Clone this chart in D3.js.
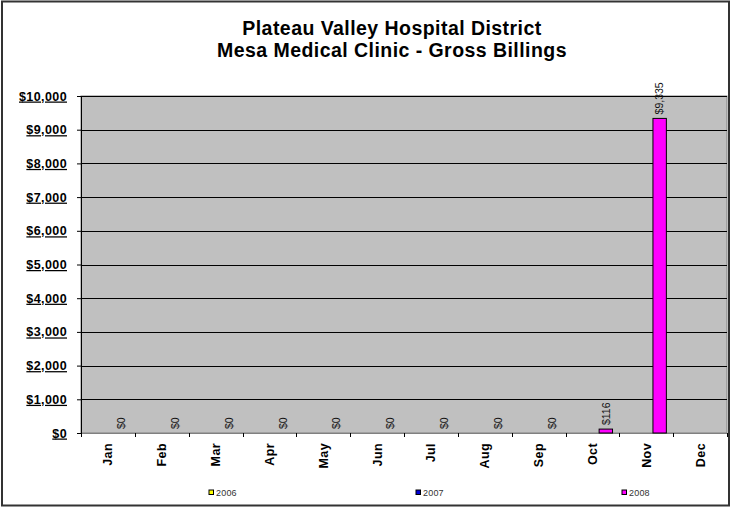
<!DOCTYPE html>
<html>
<head>
<meta charset="utf-8">
<script src="https://cdn.jsdelivr.net/npm/d3@7"></script>
<style>
  body { margin: 0; background: #fff; }
  svg { display: block; font-family: Arial, "Liberation Sans", sans-serif; }
</style>
</head>
<body>
<div class="root"></div>
<script>
var months = ['Jan', 'Feb', 'Mar', 'Apr', 'May', 'Jun', 'Jul', 'Aug', 'Sep', 'Oct', 'Nov', 'Dec'];
var seriesNames = ['2006', '2007', '2008'];
var seriesColors = ['#ffff00', '#0000d8', '#ff00ff'];
var billings2006 = [null, null, null, null, null, null, null, null, null, null, null, null];
var billings2007 = [null, null, null, null, null, null, null, null, null, null, null, null];
var billings2008 = [0, 0, 0, 0, 0, 0, 0, 0, 0, 116, 9335, null];
var yTicks = [0, 1000, 2000, 3000, 4000, 5000, 6000, 7000, 8000, 9000, 10000];
var titleLines = ['Plateau Valley Hospital District', 'Mesa Medical Clinic - Gross Billings'];

function drawChart() {
  var w = 732, h = 508;
  var plot = {left: 81, right: 727, top: 96, bottom: 433};

  var allSeries = [billings2006, billings2007, billings2008];

  var svg = d3.select('.root').append('svg')
    .attr('width', w)
    .attr('height', h);

  // outer chart border
  svg.append('rect')
    .attr('x', 2).attr('y', 1.5)
    .attr('width', 727).attr('height', 504)
    .attr('fill', '#fff')
    .attr('stroke', '#333')
    .attr('stroke-width', 2);

  // title
  svg.append('g').selectAll('text')
    .data(titleLines)
    .enter().append('text')
      .attr('x', 392)
      .attr('y', function(d, i) { return 34.5 + i * 22; })
      .attr('text-anchor', 'middle')
      .attr('font-size', '19.5px')
      .attr('font-weight', 'bold')
      .attr('letter-spacing', '0.45px')
      .attr('fill', '#000')
      .text(function(d) { return d; });

  var x = d3.scaleBand()
    .domain(months)
    .range([plot.left, plot.right])
    .paddingInner(0.253)
    .paddingOuter(0.1265);

  var xs = d3.scaleBand()
    .domain(seriesNames)
    .range([0, x.bandwidth()]);

  var y = d3.scaleLinear()
    .domain([0, 10000])
    .range([plot.bottom, plot.top]);

  // plot area
  svg.append('rect')
    .attr('x', plot.left).attr('y', plot.top)
    .attr('width', plot.right - plot.left).attr('height', plot.bottom - plot.top)
    .attr('fill', '#c0c0c0')
    .attr('stroke', '#808080')
    .attr('stroke-width', 1);

  // gridlines
  svg.append('g')
    .selectAll('line')
    .data(yTicks.filter(function(d) { return d > 0; }))
    .enter().append('line')
      .attr('x1', plot.left).attr('x2', plot.right)
      .attr('y1', function(d) { return Math.round(y(d)) + 0.5; })
      .attr('y2', function(d) { return Math.round(y(d)) + 0.5; })
      .attr('stroke', '#000')
      .attr('stroke-width', 1);

  // y axis
  var yAxis = svg.append('g')
    .attr('transform', 'translate(' + plot.left + ',0)')
    .call(d3.axisLeft(y)
      .tickValues(yTicks)
      .tickSize(4)
      .tickPadding(10)
      .tickFormat(function(d) { return '$' + d3.format(',')(d); }));
  yAxis.select('.domain').attr('stroke', '#000');
  yAxis.selectAll('.tick line').attr('stroke', '#000');
  yAxis.selectAll('.tick text')
    .attr('font-family', 'Arial, "Liberation Sans", sans-serif')
    .attr('font-size', '12.5px')
    .attr('font-weight', 'bold')
    .attr('letter-spacing', '0.4px')
    .attr('text-decoration', 'underline')
    .attr('fill', '#000');

  // x axis
  var step = x.step();
  var xAxisG = svg.append('g');
  xAxisG.append('line')
    .attr('x1', plot.left).attr('x2', plot.right)
    .attr('y1', plot.bottom + 0.5).attr('y2', plot.bottom + 0.5)
    .attr('stroke', '#808080');
  xAxisG.selectAll('.tk')
    .data(d3.range(months.length + 1))
    .enter().append('line')
      .attr('class', 'tk')
      .attr('x1', function(i) { return Math.round(plot.left + i * step) + 0.5; })
      .attr('x2', function(i) { return Math.round(plot.left + i * step) + 0.5; })
      .attr('y1', plot.bottom).attr('y2', plot.bottom + 4)
      .attr('stroke', '#000');
  xAxisG.selectAll('text')
    .data(months)
    .enter().append('text')
      .attr('transform', function(d) {
        return 'translate(' + (x(d) + x.bandwidth() / 2) + ',' + (plot.bottom + 10) + ') rotate(-90)';
      })
      .attr('text-anchor', 'end')
      .attr('dy', '0.36em')
      .attr('font-size', '12.5px')
      .attr('font-weight', 'bold')
      .attr('letter-spacing', '0.4px')
      .attr('fill', '#000')
      .text(function(d) { return d; });

  // bars
  var barData = [];
  allSeries.forEach(function(vals, si) {
    vals.forEach(function(v, mi) {
      if (v !== null) barData.push({series: seriesNames[si], color: seriesColors[si], month: months[mi], value: v});
    });
  });

  svg.append('g')
    .selectAll('rect')
    .data(barData.filter(function(d) { return d.value > 0; }))
    .enter().append('rect')
      .attr('x', function(d) { return x(d.month) + xs(d.series); })
      .attr('y', function(d) { return y(d.value); })
      .attr('width', xs.bandwidth())
      .attr('height', function(d) { return y(0) - y(d.value); })
      .attr('fill', function(d) { return d.color; })
      .attr('stroke', '#000')
      .attr('stroke-width', 1);

  // data labels
  svg.append('g')
    .selectAll('text')
    .data(barData)
    .enter().append('text')
      .attr('transform', function(d) {
        var cx = x(d.month) + xs(d.series) + xs.bandwidth() / 2;
        return 'translate(' + cx + ',' + (y(d.value) - 4) + ') rotate(-90)';
      })
      .attr('text-anchor', 'start')
      .attr('dy', '0.36em')
      .attr('font-size', '10.5px')
      .attr('fill', '#111')
      .text(function(d) { return '$' + d3.format(',')(d.value); });

  // legend
  var legendX = [209, 416, 622];
  var legend = svg.append('g')
    .selectAll('g')
    .data(seriesNames)
    .enter().append('g')
      .attr('transform', function(d, i) { return 'translate(' + legendX[i] + ',490)'; });
  legend.append('rect')
    .attr('width', 4.5).attr('height', 4.5)
    .attr('y', 0)
    .attr('fill', function(d, i) { return seriesColors[i]; })
    .attr('stroke', '#000')
    .attr('stroke-width', 1);
  legend.append('text')
    .attr('x', 7)
    .attr('y', 2.5)
    .attr('dy', '0.35em')
    .attr('font-size', '9px')
    .attr('letter-spacing', '0.2px')
    .attr('fill', '#333')
    .text(function(d) { return d; });
}

window.onload = function() {
  drawChart();
};
</script>
</body>
</html>
